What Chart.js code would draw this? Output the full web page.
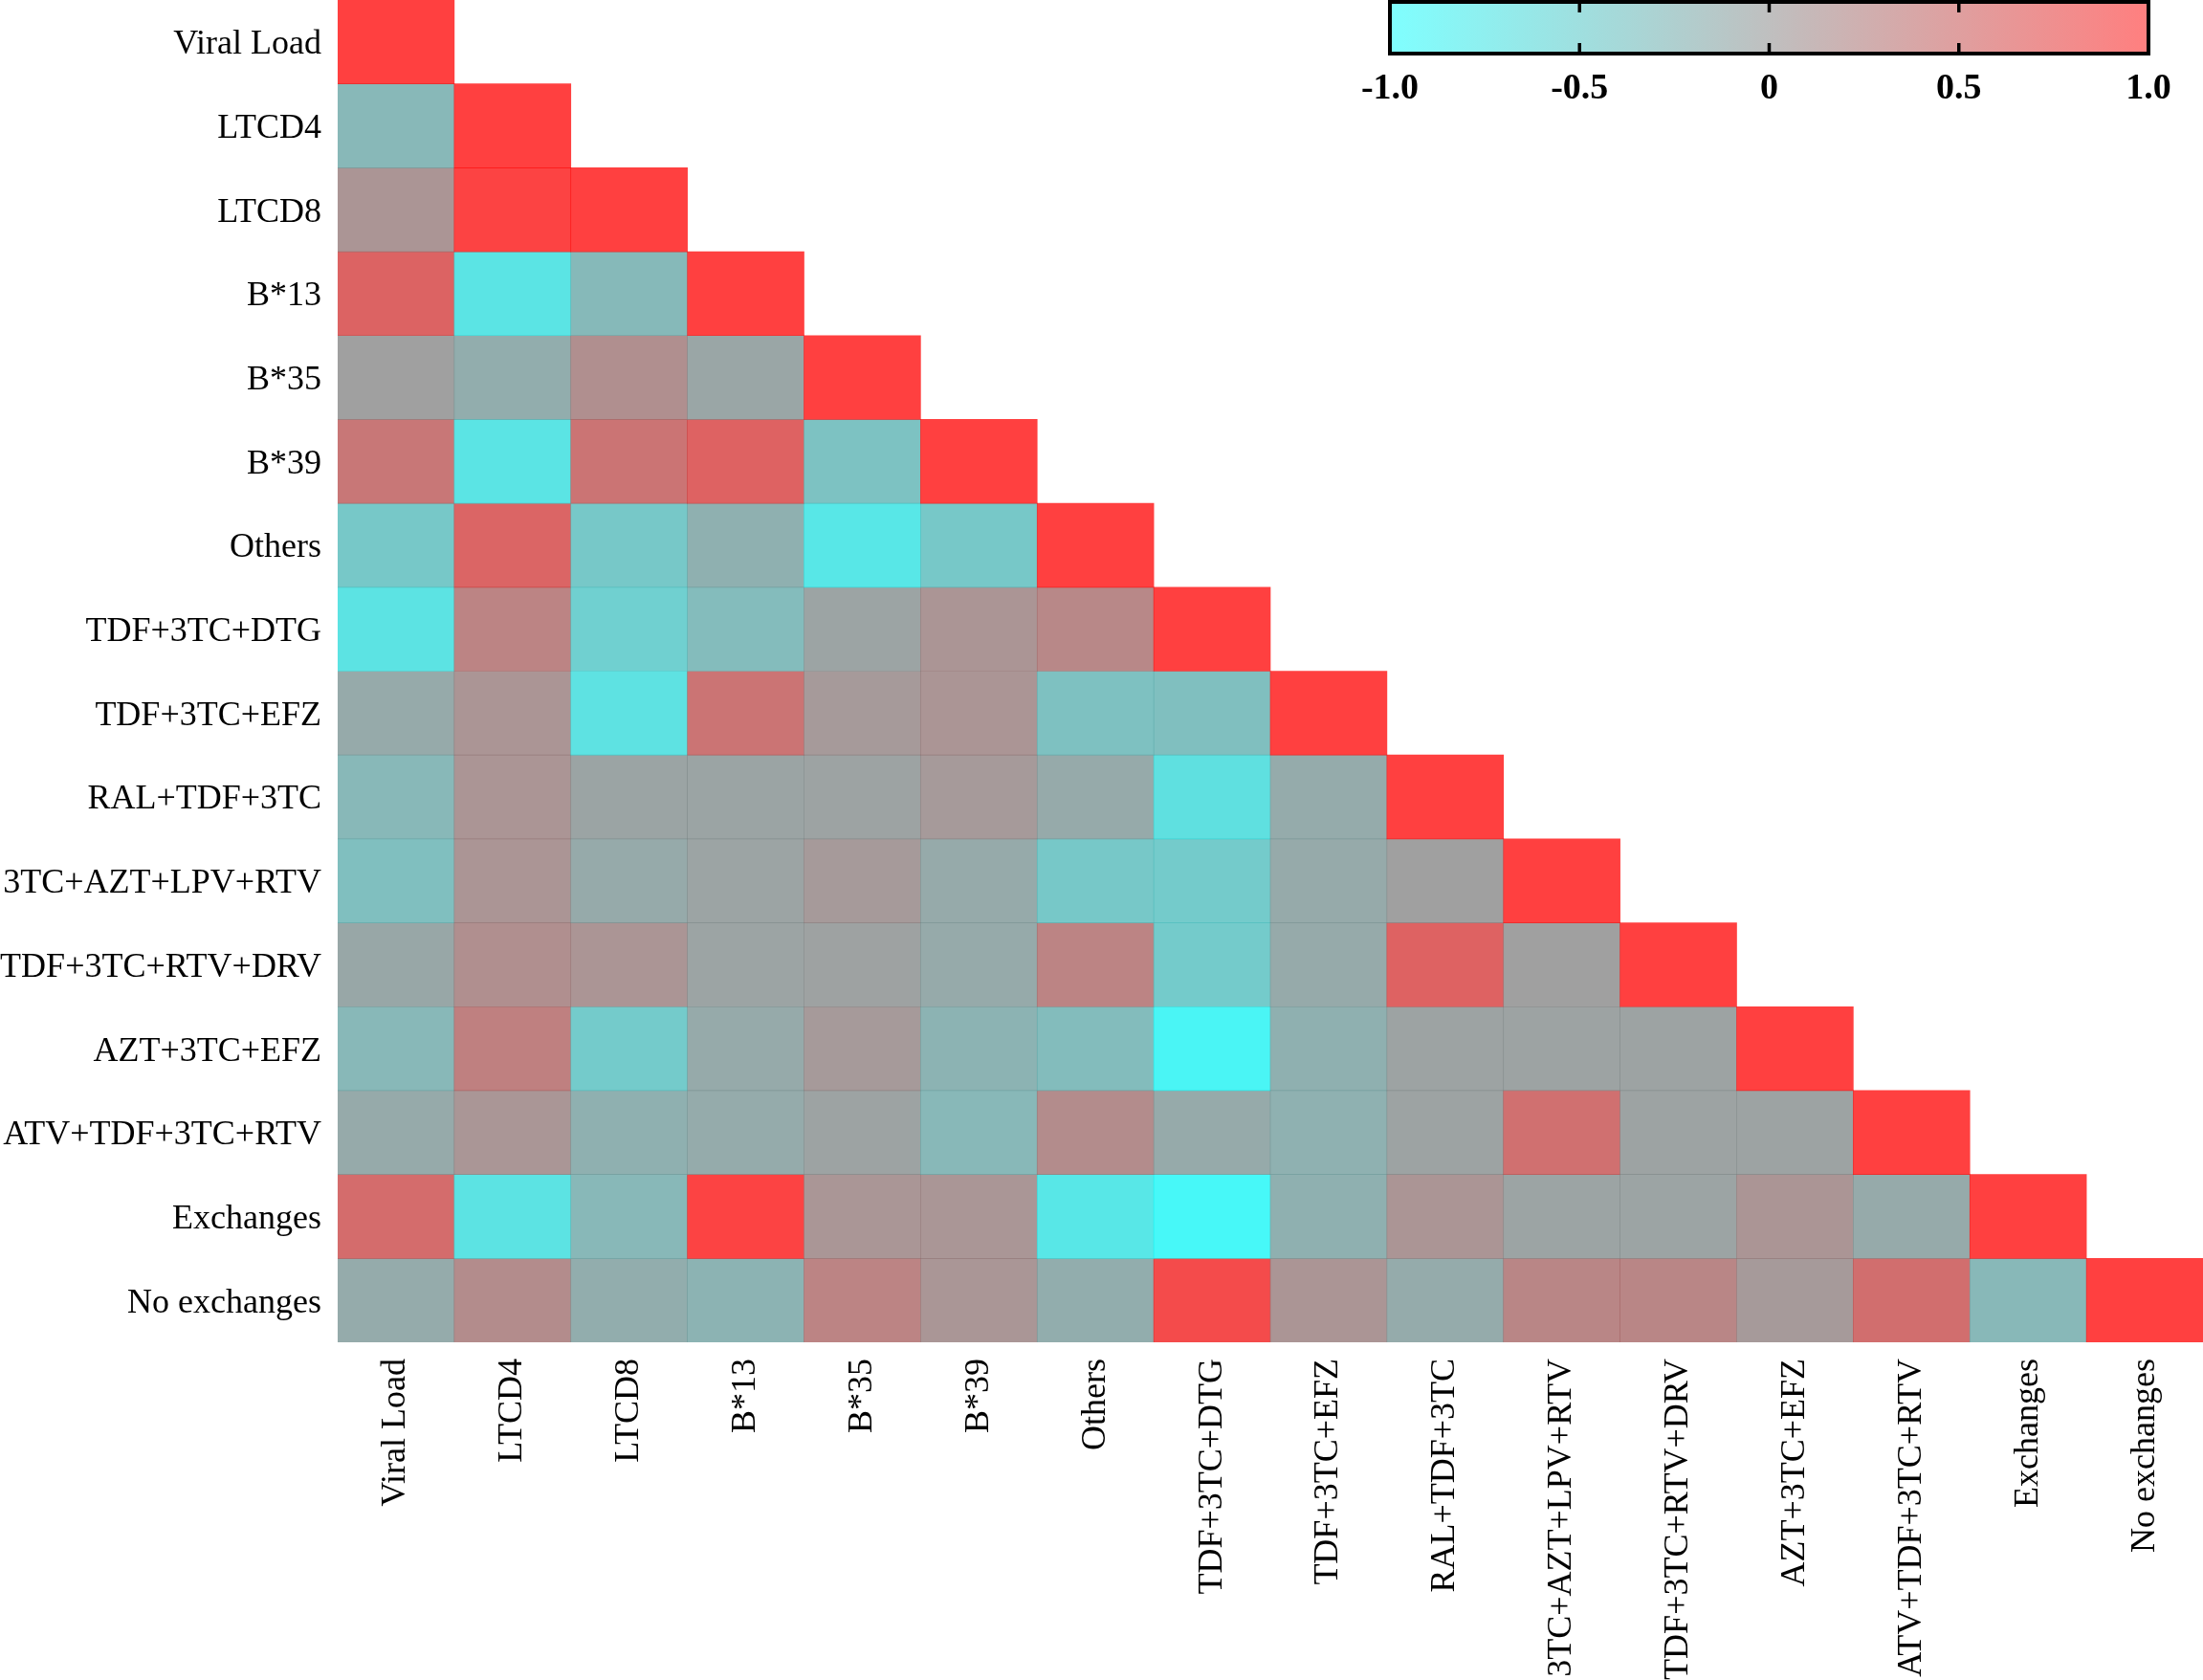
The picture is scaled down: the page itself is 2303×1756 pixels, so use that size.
<!DOCTYPE html>
<html>
<head>
<meta charset="utf-8">
<style>
  html, body { margin: 0; padding: 0; background: #fff; }
  .chart-container { position: relative; width: 2303px; height: 1756px; }
</style>
</head>
<body>
  <div class="chart-container">
    <canvas id="chart1"></canvas>
  </div>
<script src="https://cdn.jsdelivr.net/npm/chart.js@4.4.1/dist/chart.umd.min.js"></script>
<script>
  const labels = [
    'Viral Load', 'LTCD4', 'LTCD8', 'B*13', 'B*35', 'B*39', 'Others',
    'TDF+3TC+DTG', 'TDF+3TC+EFZ', 'RAL+TDF+3TC', '3TC+AZT+LPV+RTV',
    'TDF+3TC+RTV+DRV', 'AZT+3TC+EFZ', 'ATV+TDF+3TC+RTV', 'Exchanges',
    'No exchanges'
  ]

  // lower triangle of the correlation matrix, one row per variable
  const corr = [
    [1],
    [-0.25, 1],
    [0.12, 0.97, 1],
    [0.63, -0.72, -0.27, 1],
    [0, -0.14, 0.17, -0.06, 1],
    [0.42, -0.72, 0.46, 0.65, -0.36, 1],
    [-0.42, 0.62, -0.42, -0.17, -0.75, -0.42, 1],
    [-0.7, 0.29, -0.5, -0.29, -0.04, 0.12, 0.25, 1],
    [-0.1, 0.12, -0.69, 0.46, 0.06, 0.12, -0.35, -0.33, 1],
    [-0.25, 0.12, -0.05, -0.05, -0.03, 0.06, -0.1, -0.67, -0.12, 1],
    [-0.33, 0.12, -0.1, -0.04, 0.06, -0.1, -0.42, -0.46, -0.1, 0, 1],
    [-0.08, 0.17, 0.12, -0.04, -0.02, -0.1, 0.29, -0.46, -0.1, 0.65, 0, 1],
    [-0.25, 0.33, -0.46, -0.1, 0.06, -0.2, -0.3, -0.9, -0.17, -0.03, -0.03, -0.03, 1],
    [-0.1, 0.1, -0.17, -0.12, -0.03, -0.25, 0.2, -0.1, -0.18, -0.03, 0.5, -0.03, -0.03, 1],
    [0.54, -0.7, -0.25, 0.97, 0.1, 0.1, -0.75, -0.92, -0.17, 0.12, -0.04, -0.04, 0.12, -0.1, 1],
    [-0.12, 0.2, -0.14, -0.2, 0.29, 0.1, -0.14, 0.88, 0.12, -0.12, 0.27, 0.27, 0.06, 0.52, -0.25, 1]
  ]

  const cbTicks = [-1, -0.5, 0, 0.5, 1]
  const cbTickLabels = ['-1.0', '-0.5', '0', '0.5', '1.0']

  const FONT = 'Liberation Serif'

  // cyan -> gray -> red
  function colorFor(v, alpha) {
    let r, g
    if (v < 0) {
      r = 128 * (1 + v)
      g = 128 - 127 * v
    } else {
      r = 128 + 127 * v
      g = 128 * (1 - v)
    }
    return 'rgba(' + Math.round(r) + ',' + Math.round(g) + ',' + Math.round(g) + ',' + alpha + ')'
  }

  const datasets = corr.map((row, i) => ({
    label: labels[i],
    data: labels.map((_, j) => (j < row.length ? [i - 0.5, i + 0.5] : null)),
    backgroundColor: labels.map((_, j) =>
      j < row.length ? colorFor(row[j], 0.75) : 'rgba(0,0,0,0)'
    ),
    borderWidth: 0,
    barPercentage: 1,
    categoryPercentage: 1,
    grouped: false
  }))

  const colorBar = {
    id: 'colorBar',
    afterDraw(chart) {
      const ctx = chart.ctx
      const x0 = 1453, x1 = 2246, y0 = 2, y1 = 56
      ctx.save()
      const grad = ctx.createLinearGradient(x0, 0, x1, 0)
      grad.addColorStop(0, colorFor(-1, 0.5))
      grad.addColorStop(0.5, colorFor(0, 0.5))
      grad.addColorStop(1, colorFor(1, 0.5))
      ctx.fillStyle = grad
      ctx.fillRect(x0, y0, x1 - x0, y1 - y0)
      ctx.strokeStyle = '#000'
      ctx.lineWidth = 4
      ctx.strokeRect(x0, y0, x1 - x0, y1 - y0)
      ctx.lineWidth = 3.5
      ctx.fillStyle = '#000'
      ctx.font = 'bold 38px "' + FONT + '"'
      ctx.textAlign = 'center'
      ctx.textBaseline = 'middle'
      cbTicks.forEach((t, k) => {
        const x = x0 + ((t + 1) / 2) * (x1 - x0)
        if (k > 0 && k < cbTicks.length - 1) {
          ctx.beginPath()
          ctx.moveTo(x, y0)
          ctx.lineTo(x, y0 + 11)
          ctx.moveTo(x, y1)
          ctx.lineTo(x, y1 - 11)
          ctx.stroke()
        }
        ctx.fillText(cbTickLabels[k], x, 93)
      })
      ctx.restore()
    }
  }

  new Chart(document.getElementById('chart1'), {
    type: 'bar',
    data: { labels: labels, datasets: datasets },
    plugins: [colorBar],
    options: {
      responsive: true,
      maintainAspectRatio: false,
      animation: false,
      layout: { padding: 0 },
      plugins: {
        legend: { display: false },
        tooltip: { enabled: false }
      },
      scales: {
        x: {
          grid: { display: false, drawTicks: false },
          border: { display: false },
          ticks: {
            color: '#000',
            font: { family: FONT, size: 36 },
            minRotation: 90,
            maxRotation: 90,
            autoSkip: false,
            padding: 17
          },
          afterFit: s => {
            s.height = 353
            s.paddingLeft = 0
            s.paddingRight = 0
          }
        },
        y: {
          type: 'linear',
          min: -0.5,
          max: 15.5,
          reverse: true,
          grid: { display: false, drawTicks: false },
          border: { display: false },
          afterBuildTicks: s => {
            s.ticks = labels.map((_, i) => ({ value: i }))
          },
          ticks: {
            color: '#000',
            font: { family: FONT, size: 36 },
            autoSkip: false,
            padding: 17,
            labelOffset: 3,
            callback: v => labels[v]
          },
          afterFit: s => {
            s.width = 353
            s.paddingTop = 0
            s.paddingBottom = 0
          }
        }
      }
    }
  })
</script>
</body>
</html>
